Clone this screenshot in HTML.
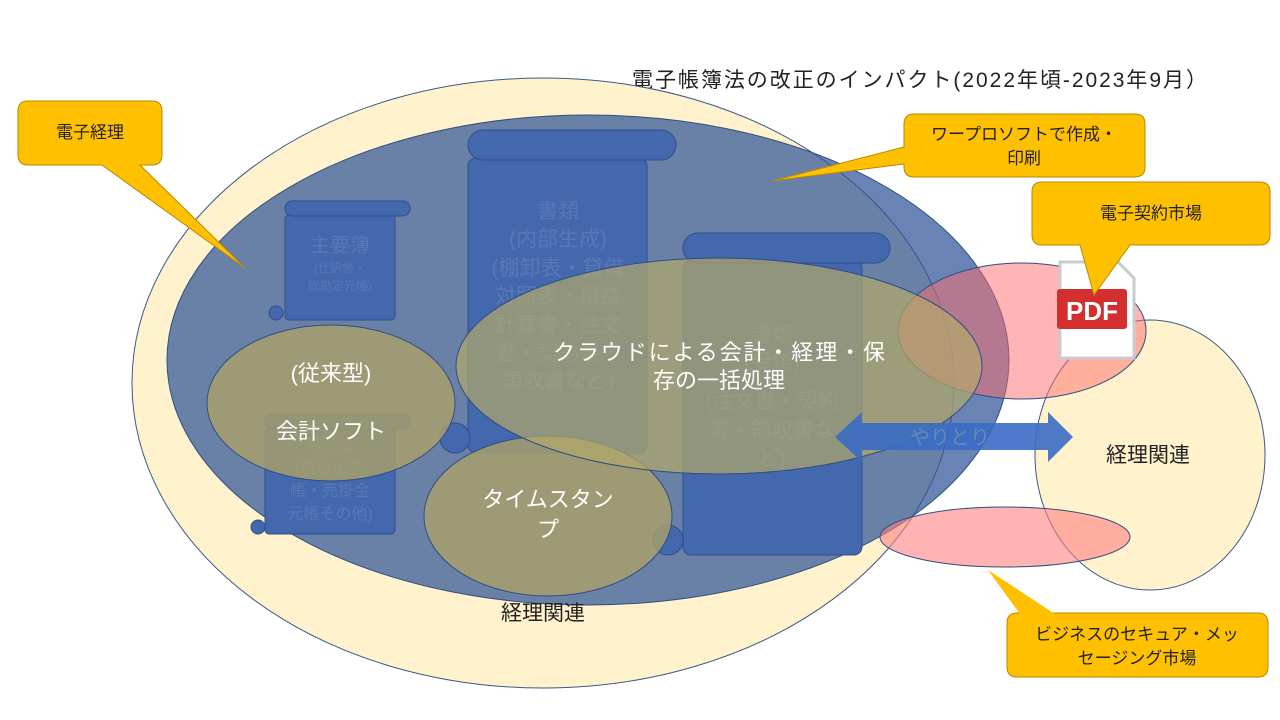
<!DOCTYPE html>
<html><head><meta charset="utf-8"><style>
html,body{margin:0;padding:0;background:#fff;}
svg{display:block;font-family:"Liberation Sans","Noto Sans CJK JP",sans-serif;}
</style></head><body>
<svg width="1280" height="720" viewBox="0 0 1280 720" xmlns="http://www.w3.org/2000/svg">
<text x="632" y="87" font-size="21" fill="#222" textLength="575" lengthAdjust="spacing">電子帳簿法の改正のインパクト(2022年頃-2023年9月）</text>
<ellipse cx="543" cy="383" rx="411" ry="305" fill="#fff2cc" stroke="#3a5a8a" stroke-width="1"/>
<ellipse cx="1150" cy="455" rx="115" ry="135" fill="#fff2cc" stroke="#3a5a8a" stroke-width="1"/>
<ellipse cx="588" cy="360" rx="421" ry="245" fill="#2f5597" fill-opacity="0.72" stroke="#2f4f80" stroke-width="1"/>
<g fill="#4468ae" stroke="#2f4f8f" stroke-width="1">
<rect x="285" y="215" width="110" height="105" rx="4"/><rect x="285" y="201" width="125" height="15" rx="7"/>
<circle cx="276" cy="313" r="7"/>
<rect x="468" y="158" width="179" height="295" rx="8"/><rect x="468" y="130" width="208" height="30" rx="15"/>
<circle cx="455" cy="438" r="15"/>
<rect x="683" y="260" width="179" height="295" rx="8"/><rect x="683" y="233" width="207" height="30" rx="15"/>
<circle cx="668" cy="540" r="15"/>
<rect x="265" y="428" width="130" height="106" rx="4"/><rect x="265" y="414" width="145" height="15" rx="7"/>
<circle cx="258" cy="527" r="7"/>
</g>
<g fill="#5878b8" text-anchor="middle">
<text x="340" y="252" font-size="20">主要簿</text>
<text x="340" y="272" font-size="12">(仕訳帳・</text>
<text x="340" y="290" font-size="12">総勘定元帳)</text>
<text x="558" y="218" font-size="21">書類</text>
<text x="558" y="246" font-size="21">(内部生成)</text>
<text x="558" y="275" font-size="21">(棚卸表・貸借</text>
<text x="558" y="303" font-size="21">対照表・損益</text>
<text x="558" y="332" font-size="21">計算書・注文</text>
<text x="558" y="360" font-size="21">書・契約書・</text>
<text x="558" y="388" font-size="21">領収書など)</text>
<text x="772" y="342" font-size="21">書類</text>
<text x="772" y="370" font-size="21">(受領)</text>
<text x="772" y="408" font-size="21">(注文書・契約</text>
<text x="772" y="437" font-size="21">書・領収書な</text>
<text x="772" y="465" font-size="21">ど)</text>
<text x="330" y="450" font-size="16">補助簿</text>
<text x="330" y="473" font-size="16">(現金出納</text>
<text x="330" y="496" font-size="16">帳・売掛金</text>
<text x="330" y="519" font-size="16">元帳その他)</text>
</g>
<g fill="#a8a06a" fill-opacity="0.82" stroke="#2f4f80" stroke-width="1">
<ellipse cx="331" cy="403" rx="124" ry="78"/>
<ellipse cx="548" cy="516" rx="124" ry="80"/>
</g>
<ellipse cx="1022" cy="331" rx="124" ry="68" fill="#ff6b6b" fill-opacity="0.5" stroke="#2f4f80" stroke-width="1"/>
<ellipse cx="1005" cy="537" rx="125" ry="30" fill="#ff8080" fill-opacity="0.6" stroke="#2f4f80" stroke-width="1"/>
<ellipse cx="719" cy="366" rx="263" ry="108" fill="#b3a86a" fill-opacity="0.7" stroke="#2f4f80" stroke-width="1"/>
<polygon points="835,437 862,412 862,423 1048,423 1048,412 1073,437 1048,462 1048,450 862,450 862,462" fill="#3a6cc4" fill-opacity="0.9"/>
<text x="950" y="444" font-size="20" fill="#6d86b8" text-anchor="middle">やりとり</text>
<g fill="#fff" text-anchor="middle" font-size="22">
<text x="331" y="381">(従来型)</text>
<text x="331" y="439">会計ソフト</text>
<text x="548" y="507">タイムスタン</text>
<text x="548" y="537">プ</text>
<text x="719" y="360" textLength="332" lengthAdjust="spacing">クラウドによる会計・経理・保</text>
<text x="719" y="388">存の一括処理</text>
</g>
<text x="543" y="620" font-size="21" text-anchor="middle" fill="#222">経理関連</text>
<text x="1148" y="462" font-size="21" text-anchor="middle" fill="#222">経理関連</text>
<path d="M1060,262 L1118,262 L1134,278 L1134,358 L1060,358 Z" fill="#fff" stroke="#c8ccd2" stroke-width="3"/>
<rect x="1057" y="289" width="70" height="40" rx="3" fill="#d32f2f"/>
<text x="1092" y="320" font-size="26" font-weight="bold" fill="#fff" text-anchor="middle">PDF</text>
<g fill="#ffc000" stroke="#b88a00" stroke-width="1">
<path d="M28,101 H152 Q162,101 162,111 V155 Q162,165 152,165 H140 L245,268 L102,165 H28 Q18,165 18,155 V111 Q18,101 28,101 Z"/>
<path d="M914,114 H1135 Q1145,114 1145,124 V167 Q1145,177 1135,177 H914 Q904,177 904,167 V164 L772,181 L904,147 V124 Q904,114 914,114 Z"/>
<path d="M1042,182 H1260 Q1270,182 1270,192 V235 Q1270,245 1260,245 H1130 L1094,295 L1080,245 H1042 Q1032,245 1032,235 V192 Q1032,182 1042,182 Z"/>
<path d="M1017,613 H1258 Q1268,613 1268,623 V667 Q1268,677 1258,677 H1017 Q1007,677 1007,667 V623 Q1007,613 1017,613 Z"/>
<path d="M1020,614 L988,570 L1055,614 Z" stroke="none"/>
</g>
<g fill="#222" text-anchor="middle" font-size="17">
<text x="90" y="138">電子経理</text>
<text x="1024" y="140">ワープロソフトで作成・</text>
<text x="1024" y="164">印刷</text>
<text x="1151" y="219">電子契約市場</text>
<text x="1137" y="640">ビジネスのセキュア・メッ</text>
<text x="1137" y="664">セージング市場</text>
</g>
</svg>
</body></html>
